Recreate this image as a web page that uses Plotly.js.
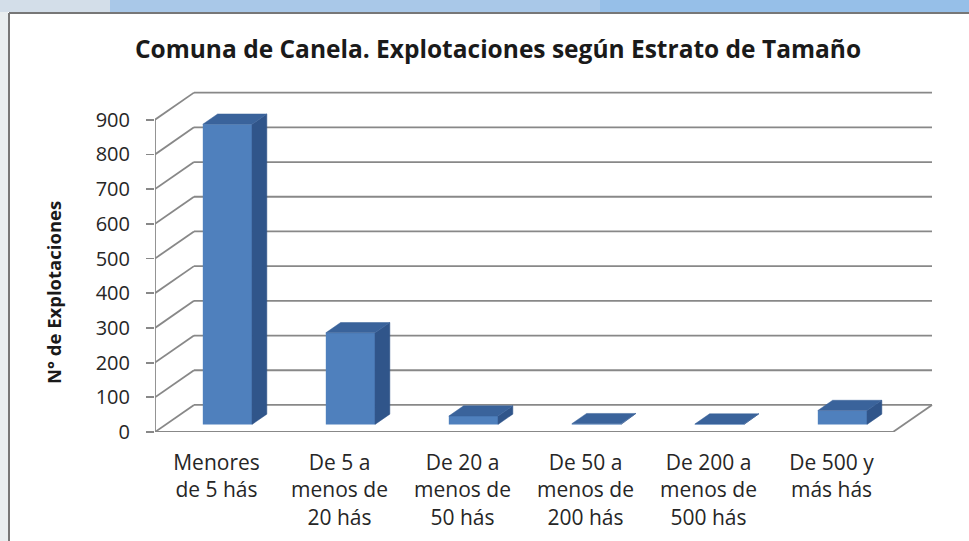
<!DOCTYPE html>
<html>
<head>
<meta charset="utf-8">
<script src="https://cdn.plot.ly/plotly-3.0.1.min.js"></script>
<style>html,body{margin:0;padding:0;background:#fff;}#chart{width:969px;height:541px;}</style>
</head>
<body>
<div id="chart"></div>
<script>
// ---- data ----
const categories = [
  'Menores<br>de 5 hás',
  'De 5 a<br>menos de<br>20 hás',
  'De 20 a<br>menos de<br>50 hás',
  'De 50 a<br>menos de<br>200 hás',
  'De 200 a<br>menos de<br>500 hás',
  'De 500 y<br>más hás'
];
const values = [865, 264, 24, 2, 1, 40];
const yTicks = [0, 100, 200, 300, 400, 500, 600, 700, 800, 900];
const titleText = 'Comuna de Canela. Explotaciones según Estrato de Tamaño';
const yTitleText = 'N° de Explotaciones';

// ---- 3D projection style constants ----
const DX = 0.317;   // depth offset in category units
const DY = 78;      // depth offset in value units
const F0 = 0.28;    // bar front depth fraction
const BD = 0.38;    // bar depth fraction
const BW = 0.40;    // bar width
const X0 = -0.5, X1 = categories.length - 0.5;

const FONT = '"Open Sans", "Liberation Sans", Arial, sans-serif';
const gridColor = '#888888';

// walls / grid shapes (drawn below traces)
const shapes = [];
function line(x0, y0, x1, y1, color, w) {
  shapes.push({type: 'line', xref: 'x', yref: 'y', x0, y0, x1, y1, layer: 'below',
               line: {color: color || gridColor, width: w || 1.8}});
}
line(X0, 0, X0, yTicks[yTicks.length - 1]);
yTicks.forEach(v => {
  line(X0, v, X0 + DX, v + DY);
  line(X0 + DX, v + DY, X1 + DX, v + DY);
});
line(X0, 0, X1, 0);
line(X1, 0, X1 + DX, DY);

// frame decorations (paper coords)
const L = 155, PW = 787, B = 432, PH = 347;
const px = p => (p - L) / PW;
const py = p => (B - p) / PH;
shapes.push({type: 'rect', xref: 'paper', yref: 'paper', x0: px(0), x1: px(969), y0: py(0), y1: py(12), line: {width: 0}, fillcolor: '#a9c8e8', layer: 'above'});
shapes.push({type: 'rect', xref: 'paper', yref: 'paper', x0: px(0), x1: px(110), y0: py(0), y1: py(12), line: {width: 0}, fillcolor: '#d3dee9', layer: 'above'});
shapes.push({type: 'rect', xref: 'paper', yref: 'paper', x0: px(600), x1: px(969), y0: py(0), y1: py(12), line: {width: 0}, fillcolor: '#96bfe8', layer: 'above'});
shapes.push({type: 'rect', xref: 'paper', yref: 'paper', x0: px(0), x1: px(8), y0: py(12), y1: py(541), line: {width: 0}, fillcolor: '#e9eef0', layer: 'above'});
shapes.push({type: 'line', xref: 'paper', yref: 'paper', x0: px(9), x1: px(9), y0: py(13), y1: py(541), line: {color: '#777', width: 2}, layer: 'above'});
shapes.push({type: 'line', xref: 'paper', yref: 'paper', x0: px(9), x1: px(969), y0: py(13), y1: py(13), line: {color: '#777', width: 2}, layer: 'above'});

// bar faces
const base = F0 * DY;
const frontX = values.map((v, i) => i + F0 * DX);
const sideX = [], sideY = [], topX = [], topY = [];
values.forEach((v, i) => {
  const xr = frontX[i] + BW / 2, xl = frontX[i] - BW / 2;
  const ox = BD * DX, oy = BD * DY;
  sideX.push(xr, xr + ox, xr + ox, xr, xr, null);
  sideY.push(base, base + oy, base + oy + v, base + v, base, null);
  topX.push(xl, xl + ox, xr + ox, xr, xl, null);
  topY.push(base + v, base + v + oy, base + v + oy, base + v, base + v, null);
});

const traces = [
  {type: 'bar', x: frontX, y: values, base: base, width: BW,
   marker: {color: '#4f80bd', line: {width: 0}}, hoverinfo: 'skip', showlegend: false},
  {type: 'scatter', mode: 'lines', x: sideX, y: sideY, fill: 'toself', fillcolor: '#30558a',
   line: {width: 0.5, color: '#30558a'}, hoverinfo: 'skip', showlegend: false},
  {type: 'scatter', mode: 'lines', x: topX, y: topY, fill: 'toself', fillcolor: '#3a639b',
   line: {width: 0.5, color: '#3a639b'}, hoverinfo: 'skip', showlegend: false}
];

const layout = {
  width: 969, height: 541,
  margin: {l: L, r: 969 - L - PW, t: 85, b: 541 - B},
  paper_bgcolor: '#ffffff', plot_bgcolor: '#ffffff',
  showlegend: false,
  title: {text: titleText, x: 498 / 969, xanchor: 'center', y: 1 - 49 / 541, yanchor: 'middle',
          font: {family: FONT, size: 24.5, weight: 'bold', color: '#1a1a1a'}},
  xaxis: {range: [X0, X0 + PW / 123], tickvals: categories.map((c, i) => i), ticktext: categories,
          showgrid: false, zeroline: false, showline: false, ticks: '', fixedrange: true,
          ticklabelstandoff: 16,
          tickfont: {family: FONT, size: 21, color: '#262626'}},
  yaxis: {range: [0, PH / 0.347], tickvals: yTicks, ticktext: yTicks.map(String),
          showgrid: false, zeroline: false, showline: false,
          ticks: 'outside', ticklen: 8, tickwidth: 1.8, tickcolor: gridColor,
          ticklabelstandoff: 12, fixedrange: true,
          tickfont: {family: FONT, size: 20, color: '#262626'}},
  shapes: shapes,
  annotations: [{text: yTitleText, xref: 'paper', yref: 'paper', x: px(53), y: py(293),
                 xanchor: 'center', yanchor: 'middle', textangle: -90, showarrow: false,
                 font: {family: FONT, size: 18.5, weight: 'bold', color: '#1a1a1a'}}]
};

Plotly.newPlot('chart', traces, layout, {displayModeBar: false, staticPlot: true});
</script>
</body>
</html>
